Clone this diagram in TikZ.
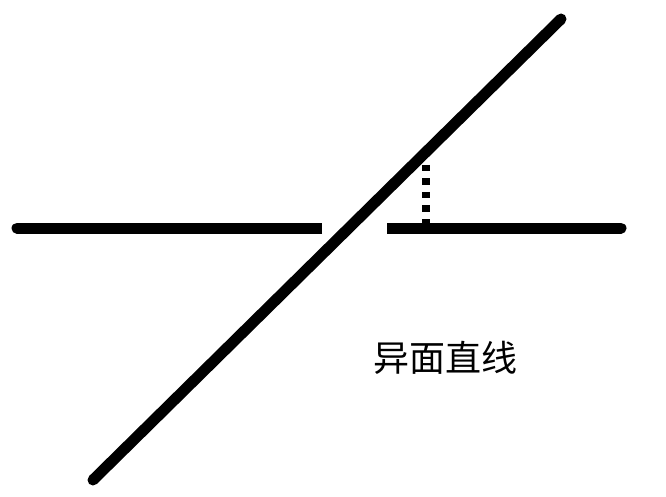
\documentclass[tikz,border=0pt]{standalone}
\usepackage{fontspec}
\newfontfamily\cjk{Noto Sans CJK SC}
\begin{document}
\begin{tikzpicture}[x=1pt,y=1pt,
  thick line/.style={line width=11pt,black},
  perp/.style={line width=8pt,black,dash pattern=on 6.5pt off 7pt},
  label/.style={font=\cjk\fontsize{36pt}{42pt}\selectfont,inner sep=0pt}]
\useasboundingbox (0,0) rectangle (666,496);
\coordinate (hl1) at (17,268);
\coordinate (hl2) at (322,268);
\coordinate (hr1) at (387,268);
\coordinate (hr2) at (621,268);
\coordinate (d1) at (93,16);
\coordinate (d2) at (561,477);
\coordinate (p1) at (426,331);
\coordinate (p2) at (426,273);
\draw[thick line] (hl2) -- (hl1);
\draw[thick line,line cap=round] (hl1) -- ++(0.01,0);
\draw[thick line] (hr1) -- (hr2);
\draw[thick line,line cap=round] (hr2) -- ++(-0.01,0);
\draw[thick line,line cap=round] (d1) -- (d2);
\draw[perp] (p1) -- (p2);
\node[label] (t) at (445,138) {异面直线};
\end{tikzpicture}
\end{document}
